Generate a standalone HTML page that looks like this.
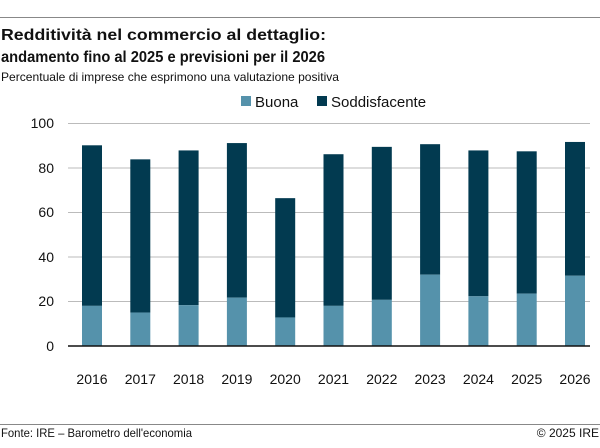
<!DOCTYPE html>
<html><head><meta charset="utf-8"><style>
body{margin:0;background:#fff;width:600px;height:443px;overflow:hidden;font-family:"Liberation Sans",sans-serif;}
</style></head><body>
<svg width="600" height="443" viewBox="0 0 600 443" xmlns="http://www.w3.org/2000/svg" font-family="Liberation Sans, sans-serif">
<line x1="0" y1="17.5" x2="600" y2="17.5" stroke="#888" stroke-width="1"/>
<text x="1" y="40" font-size="15.5" font-weight="bold" fill="#111" textLength="325" lengthAdjust="spacingAndGlyphs">Redditività nel commercio al dettaglio:</text>
<text x="1" y="62" font-size="15.5" font-weight="bold" fill="#111" textLength="324" lengthAdjust="spacingAndGlyphs">andamento fino al 2025 e previsioni per il 2026</text>
<text x="1" y="81" font-size="12" fill="#111" textLength="338" lengthAdjust="spacingAndGlyphs">Percentuale di imprese che esprimono una valutazione positiva</text>
<rect x="241" y="96" width="10" height="10" fill="#5592ab"/>
<text x="255" y="107" font-size="15" fill="#111">Buona</text>
<rect x="317" y="96" width="10" height="10" fill="#023a50"/>
<text x="331" y="107" font-size="15" fill="#111">Soddisfacente</text>
<g stroke="#bbb" stroke-width="1">
<line x1="68" y1="123.5" x2="590" y2="123.5"/>
<line x1="68" y1="168" x2="590" y2="168"/>
<line x1="68" y1="212.5" x2="590" y2="212.5"/>
<line x1="68" y1="257" x2="590" y2="257"/>
<line x1="68" y1="301.5" x2="590" y2="301.5"/>
</g>
<g font-size="14" fill="#111" text-anchor="end">
<text x="54" y="128">100</text><text x="54" y="173">80</text><text x="54" y="217">60</text>
<text x="54" y="262">40</text><text x="54" y="306">20</text><text x="54" y="351">0</text>
</g>
<g id="bars"></g>
<line x1="68" y1="346" x2="590" y2="346" stroke="#111" stroke-width="1.5"/>
<g font-size="14" fill="#111" text-anchor="middle" id="yrs"></g>
<line x1="0" y1="424.5" x2="600" y2="424.5" stroke="#888" stroke-width="1"/>
<text x="1" y="437" font-size="12" fill="#111" textLength="191" lengthAdjust="spacingAndGlyphs">Fonte: IRE – Barometro dell'economia</text>
<text x="599" y="437" font-size="12" fill="#111" text-anchor="end">© 2025 IRE</text>
<script>
var b=[18,15,18.3,21.7,12.8,18,20.7,32,22.3,23.5,31.5];
var t=[90,83.7,87.7,91,66.3,86,89.3,90.5,87.7,87.3,91.5];
var ns="http://www.w3.org/2000/svg",g=document.getElementById('bars'),y=document.getElementById('yrs');
for(var i=0;i<11;i++){var x=82+i*48.3,k=2.23;
var r=document.createElementNS(ns,'rect');r.setAttribute('x',x);r.setAttribute('width',20);r.setAttribute('y',346-t[i]*k);r.setAttribute('height',(t[i]-b[i])*k);r.setAttribute('fill','#023a50');g.appendChild(r);
r=document.createElementNS(ns,'rect');r.setAttribute('x',x);r.setAttribute('width',20);r.setAttribute('y',346-b[i]*k);r.setAttribute('height',b[i]*k);r.setAttribute('fill','#5592ab');g.appendChild(r);
var tx=document.createElementNS(ns,'text');tx.setAttribute('x',x+10);tx.setAttribute('y',384);tx.textContent=2016+i;y.appendChild(tx);}
</script>
</svg>
</body></html>
